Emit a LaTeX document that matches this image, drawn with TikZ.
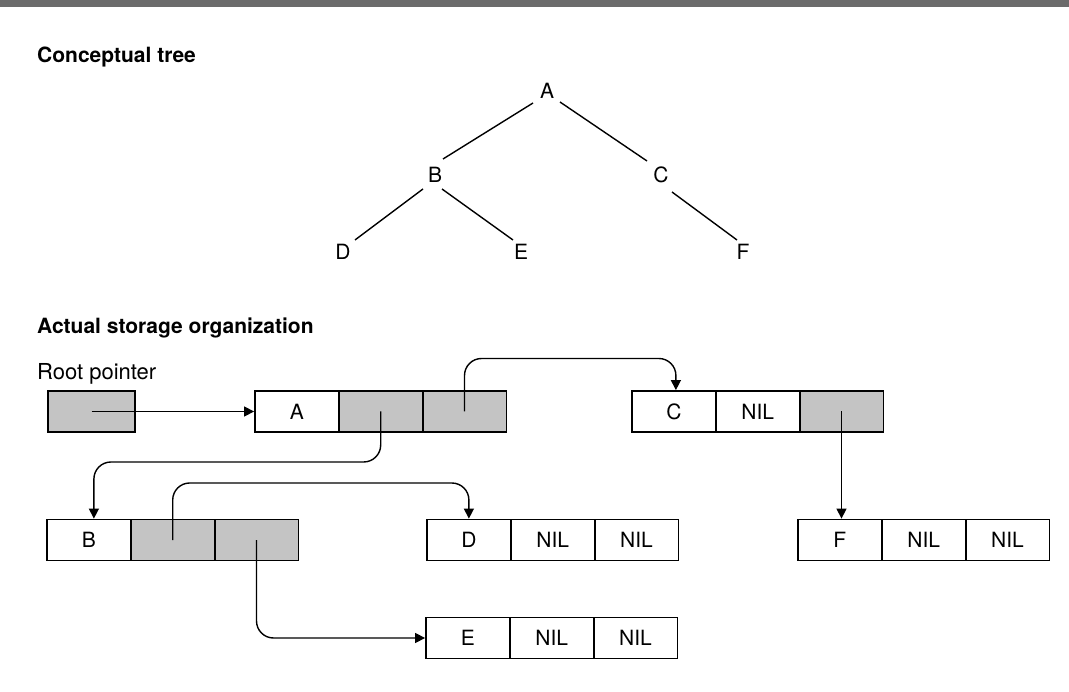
\documentclass[tikz,border=0pt]{standalone}
\usepackage{fontspec}
\setmainfont{TeX Gyre Heros}
\usetikzlibrary{arrows.meta,calc}
\definecolor{stipple}{gray}{0.77}
\definecolor{band}{gray}{0.42}
\begin{document}
\begin{tikzpicture}[x=1pt,y=-1pt,
  heading/.style={font=\fontsize{21}{25}\selectfont\bfseries, anchor=base west, inner sep=0},
  caption/.style={font=\fontsize{22}{26}\selectfont, anchor=base west, inner sep=0},
  leaf/.style={font=\fontsize{21}{25}\selectfont, inner sep=0},
  cell/.style={draw, line width=1.8pt, minimum width=83.8pt, minimum height=41pt,
               inner sep=0, font=\fontsize{21}{25}\selectfont},
  ptrcell/.style={cell, fill=stipple},
  edge/.style={line width=1.4pt},
  ptr/.style={line width=1.4pt, rounded corners=17pt, -{Triangle[length=10pt,width=10pt]}},
]
\useasboundingbox (0,0) rectangle (1069,692);
\fill[white] (0,0) rectangle (1069,692);
\fill[band] (0,0) rectangle (1069,7);

% headings
\node[heading] (h1) at (37,63) {Conceptual tree};
\node[heading] (h2) at (37,334) {Actual storage organization};
\node[caption] (rp) at (37,380) {Root pointer};

% conceptual tree
\node[leaf] (tA) at (547,91) {A};
\node[leaf] (tB) at (435,175) {B};
\node[leaf] (tC) at (661,175) {C};
\node[leaf] (tD) at (343,252) {D};
\node[leaf] (tE) at (521,252) {E};
\node[leaf] (tF) at (743,252) {F};
\draw[edge] ($(tA)+(-14,12)$) -- ($(tB)+(8,-16)$);
\draw[edge] ($(tA)+(13,11)$) -- ($(tC)+(-14,-14)$);
\draw[edge] ($(tB)+(-12,14)$) -- ($(tD)+(12,-12)$);
\draw[edge] ($(tB)+(7,14)$) -- ($(tE)+(-8,-12)$);
\draw[edge] ($(tC)+(11,17)$) -- ($(tF)+(-6,-12)$);

% storage records
\node[ptrcell, minimum width=87pt] (root) at (91.5,411.5) {};

\node[cell]    (a1) at (296.9,411.5) {A};
\node[ptrcell] (a2) at (380.7,411.5) {};
\node[ptrcell] (a3) at (464.5,411.5) {};

\node[cell]    (c1) at (673.9,411.5) {C};
\node[cell]    (c2) at (757.7,411.5) {NIL};
\node[ptrcell] (c3) at (841.5,411.5) {};

\node[cell]    (b1) at (88.9,540) {B};
\node[ptrcell] (b2) at (172.7,540) {};
\node[ptrcell] (b3) at (256.5,540) {};

\node[cell] (d1) at (468.9,540) {D};
\node[cell] (d2) at (552.7,540) {NIL};
\node[cell] (d3) at (636.5,540) {NIL};

\node[cell] (f1) at (839.9,540) {F};
\node[cell] (f2) at (923.7,540) {NIL};
\node[cell] (f3) at (1007.5,540) {NIL};

\node[cell] (e1) at (467.9,638) {E};
\node[cell] (e2) at (551.7,638) {NIL};
\node[cell] (e3) at (635.5,638) {NIL};

% pointers
\draw[ptr] (root.center) -- (a1.west);
\draw[ptr] (a3.center) -- ++(0,-53) -| ($(c1.north)+(2,0)$);
\draw[ptr] (a2.center) -- ++(0,50.5) -| ($(b1.north)+(5,0)$);
\draw[ptr] (c3.center) -- (c3.center |- f1.north);
\draw[ptr] (b2.center) -- ++(0,-57) -| (d1.north);
\draw[ptr] (b3.center) |- (e1.west);
\end{tikzpicture}
\end{document}
